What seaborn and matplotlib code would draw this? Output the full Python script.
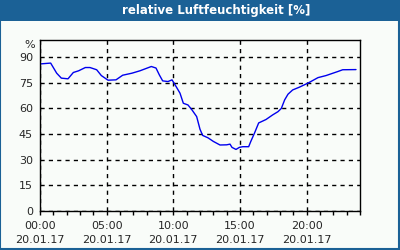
import matplotlib
matplotlib.use("Agg")
import matplotlib.pyplot as plt
from matplotlib.patches import Rectangle
from matplotlib.ticker import MultipleLocator
import seaborn as sns

# humidity readings for 20.01.17 (hour of day, % rel. humidity)
hours = [0.0, 0.8, 1.25, 1.6, 2.1, 2.5, 2.9, 3.4, 3.75, 4.25, 4.6, 5.1, 5.7,
         6.2, 6.9, 7.5, 8.35, 8.7, 8.95, 9.2, 9.6, 9.9, 10.1, 10.5, 10.75,
         11.1, 11.4, 11.75, 12.0, 12.2, 12.6, 13.0, 13.5, 14.0, 14.25, 14.4,
         14.7, 14.95, 15.2, 15.65, 15.8, 16.1, 16.4, 16.95, 17.45, 17.85,
         18.1, 18.35, 18.6, 18.95, 19.45, 20.1, 20.85, 21.45, 22.35, 22.7, 23.7]
humidity = [86.0, 86.5, 80.6, 77.7, 77.3, 81.0, 82.0, 83.9, 83.9, 82.6, 79.2,
            76.5, 76.7, 79.4, 80.6, 82.0, 84.5, 83.6, 79.6, 76.1, 75.7, 76.7,
            74.2, 68.9, 63.0, 62.0, 59.1, 55.2, 47.8, 44.2, 42.8, 40.7, 38.6,
            38.7, 39.1, 37.2, 36.0, 37.2, 37.6, 37.6, 40.5, 45.8, 51.5, 53.5,
            56.2, 58.1, 60.0, 65.0, 68.3, 70.8, 72.4, 74.8, 78.0, 79.2, 81.6,
            82.6, 82.7]

x_ticks = [0, 5, 10, 15, 20]
x_labels = ["00:00\n20.01.17", "05:00\n20.01.17", "10:00\n20.01.17",
            "15:00\n20.01.17", "20:00\n20.01.17"]
y_ticks = [0, 15, 30, 45, 60, 75, 90]

title = "relative Luftfeuchtigkeit [%]"
bar_blue = "#1b6196"
bg = "#f9fcf9"

sns.set_style("white")
plt.rcParams['font.family'] = ['DejaVu Sans']

fig = plt.figure(figsize=(4, 2.5), dpi=100, facecolor=bg)
ax = fig.add_axes([0.1, 0.156, 0.8, 0.684])
ax.set_facecolor(bg)

sns.lineplot(x=hours, y=humidity, ax=ax, color="#0000ee", linewidth=1)

ax.set_xlim(0, 24)
ax.set_ylim(0, 100)
ax.set_xticks(x_ticks)
ax.set_xticklabels(x_labels, fontsize=8, linespacing=1.55)
ax.xaxis.set_minor_locator(MultipleLocator(1))
ax.set_yticks(y_ticks)
ax.set_yticklabels([str(v) for v in y_ticks], fontsize=8)
ax.tick_params(axis="x", which="both", direction="out", length=3, width=1,
               color="black", pad=4, bottom=True)
ax.tick_params(axis="y", length=0, pad=5)
ax.grid(True, color="black", linestyle=(0, (3, 3)), linewidth=1)
for s in ax.spines.values():
    s.set_visible(True)
    s.set_color("black")
    s.set_linewidth(1)
ax.set_xlabel("")
ax.set_ylabel("")

ax.text(-0.015, 97, "%", transform=ax.get_yaxis_transform(),
        ha="right", va="center", fontsize=8)

# title bar and frame
fig.patches.append(Rectangle((0, 0.918), 1, 0.082, transform=fig.transFigure,
                             facecolor=bar_blue, edgecolor="none", zorder=0))
fig.patches.append(Rectangle((0.001, 0.003), 0.997, 0.99, transform=fig.transFigure,
                             facecolor="none", edgecolor=bar_blue, linewidth=1.5))
fig.text(0.54, 0.958, title, color="white", fontsize=8.5, fontweight="bold",
         ha="center", va="center")

fig.savefig("out.png", dpi=100, facecolor=bg)
